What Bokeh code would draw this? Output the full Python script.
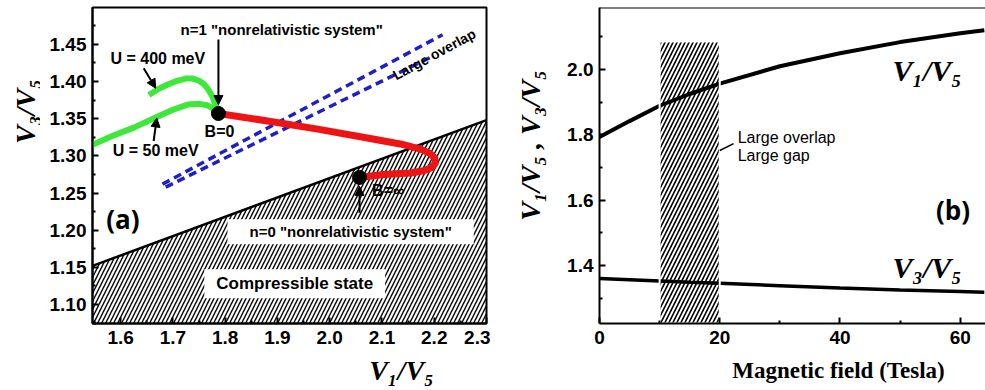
from bokeh.plotting import figure
from bokeh.layouts import row, column
from bokeh.models import Label, Arrow, NormalHead, FixedTicker, Span, NumeralTickFormatter
from bokeh.embed import file_html
from bokeh.resources import INLINE

# ---------------- data: panel (a) ----------------
a_x_ticks = [1.6, 1.7, 1.8, 1.9, 2.0, 2.1, 2.2, 2.3]
a_x_minor = [1.55, 1.65, 1.75, 1.85, 1.95, 2.05, 2.15, 2.25]
a_y_ticks = [1.10, 1.15, 1.20, 1.25, 1.30, 1.35, 1.40, 1.45]
a_y_minor = [1.075, 1.125, 1.175, 1.225, 1.275, 1.325, 1.375, 1.425, 1.475]

u400_x = [1.654, 1.672, 1.690, 1.708, 1.724, 1.738, 1.750, 1.760, 1.768, 1.776, 1.782, 1.787]
u400_y = [1.382, 1.390, 1.396, 1.401, 1.404, 1.404, 1.401, 1.396, 1.389, 1.379, 1.368, 1.357]
u50_x = [1.546, 1.585, 1.625, 1.671, 1.700, 1.728, 1.750, 1.766, 1.779, 1.787]
u50_y = [1.315, 1.327, 1.338, 1.353, 1.362, 1.369, 1.370, 1.368, 1.363, 1.357]
red_x = [1.787, 1.881, 1.977, 2.072, 2.135, 2.174, 2.192, 2.201, 2.202, 2.194, 2.180, 2.154, 2.103, 2.057]
red_y = [1.357, 1.347, 1.336, 1.324, 1.316, 1.309, 1.303, 1.297, 1.290, 1.284, 1.280, 1.277, 1.275, 1.271]
bound_x = [1.546, 2.30]
bound_y = [1.152, 1.348]
blue_up_x = [1.680, 2.216]
blue_up_y = [1.262, 1.463]
blue_lo_x = [1.686, 2.197]
blue_lo_y = [1.258, 1.434]
dots_x = [1.787, 2.057]
dots_y = [1.357, 1.271]

# ---------------- data: panel (b) ----------------
b_x_ticks = [0, 20, 40, 60]
b_x_minor = [10, 30, 50]
b_y_ticks = [1.4, 1.6, 1.8, 2.0]
b_y_minor = [1.3, 1.5, 1.7, 1.9, 2.1]
field = [0, 5, 10, 15, 20, 30, 40, 50, 60, 64]
v1_v5 = [1.793, 1.842, 1.889, 1.925, 1.957, 2.010, 2.050, 2.084, 2.111, 2.120]
v3_v5 = [1.360, 1.356, 1.352, 1.348, 1.345, 1.338, 1.331, 1.325, 1.320, 1.318]
band_left, band_right, band_top = 10, 20, 2.086

H_TOP = 355
H_BOT = 35
TICK_FONT = "Liberation Sans"


def style_axes(p, xt, xm, yt, ym, xfmt, yfmt):
    for ax in (p.xaxis[0], p.yaxis[0]):
        ax.axis_line_width = 2
        ax.axis_line_color = "black"
        ax.major_tick_in = 6
        ax.major_tick_out = 0
        ax.minor_tick_in = 3
        ax.minor_tick_out = 0
        ax.major_tick_line_width = 2
        ax.minor_tick_line_width = 2
        ax.major_label_text_font = TICK_FONT
        ax.major_label_text_font_style = "bold"
        ax.major_label_text_font_size = "19px"
        ax.major_label_text_color = "black"
    p.xaxis[0].ticker = FixedTicker(ticks=xt, minor_ticks=xm)
    p.yaxis[0].ticker = FixedTicker(ticks=yt, minor_ticks=ym)
    p.xaxis[0].formatter = NumeralTickFormatter(format=xfmt)
    p.yaxis[0].formatter = NumeralTickFormatter(format=yfmt)
    p.xaxis[0].major_label_standoff = 7
    p.yaxis[0].major_label_standoff = 6
    p.xgrid.visible = False
    p.ygrid.visible = False


def lab(p, x, y, text, size, font="Liberation Sans", style="bold", align="center",
        angle=0, bg=None, pad=0, color="black"):
    kw = {}
    if bg is not None:
        kw = dict(background_fill_color=bg, padding=pad)
    p.add_layout(Label(x=x, y=y, text=text, text_font=font, text_font_style=style,
                       text_font_size=size, text_align=align, text_baseline="middle",
                       angle=angle, text_color=color, **kw))


def arrow(p, x0, y0, x1, y1):
    p.add_layout(Arrow(end=NormalHead(size=9, fill_color="black", line_color="black"),
                       x_start=x0, y_start=y0, x_end=x1, y_end=y1,
                       line_color="black", line_width=2))


def blank(width, height):
    f = figure(width=width, height=height, x_range=(0, width), y_range=(0, height),
               output_backend="svg", toolbar_location=None,
               min_border_left=0, min_border_right=0, min_border_top=0, min_border_bottom=0)
    f.axis.visible = False
    f.xgrid.visible = False
    f.ygrid.visible = False
    f.outline_line_color = None
    return f


# ================= panel (a) =================
pa = figure(width=450, height=H_TOP, x_range=(1.546, 2.30), y_range=(1.0745, 1.4996),
            output_backend="svg", toolbar_location=None,
            min_border_left=52, min_border_right=4, min_border_top=6, min_border_bottom=32)
pa.outline_line_color = "black"
pa.outline_line_width = 2
style_axes(pa, a_x_ticks, a_x_minor, a_y_ticks, a_y_minor, "0.0", "0.00")

ymin_a = pa.y_range.start
pa.patch(bound_x + bound_x[::-1], bound_y + [ymin_a, ymin_a],
         fill_alpha=0, line_alpha=0, hatch_pattern="/", hatch_scale=8,
         hatch_weight=1.4, hatch_color="black")
pa.line(bound_x, bound_y, line_color="black", line_width=2.5)

pa.line(blue_up_x, blue_up_y, line_color="#1f1fc8", line_width=3.5, line_dash="8 5")
pa.line(blue_lo_x, blue_lo_y, line_color="#1f1fc8", line_width=3.5, line_dash="8 5")

pa.line(u400_x, u400_y, line_color="#3ee83a", line_width=6, line_join="round")
pa.line(u50_x, u50_y, line_color="#3ee83a", line_width=6, line_join="round")
pa.line(red_x, red_y, line_color="#ee1414", line_width=7, line_join="round")
pa.scatter(dots_x, dots_y, size=14, fill_color="black", line_color="black")

lab(pa, 1.908, 1.470, 'n=1 "nonrelativistic system"', "15px")
arrow(pa, 1.787, 1.4567, 1.787, 1.369)
lab(pa, 1.671, 1.431, "U = 400 meV", "16px")
arrow(pa, 1.644, 1.418, 1.667, 1.391)
lab(pa, 1.667, 1.3066, "U = 50 meV", "16px")
arrow(pa, 1.663, 1.320, 1.669, 1.351)
lab(pa, 1.789, 1.3334, "B=0", "16px")
lab(pa, 2.112, 1.254, "B=\u221e", "16px")
arrow(pa, 2.057, 1.2235, 2.057, 1.259)
lab(pa, 1.604, 1.2154, "(a)", "26px", font="Open Sans")
lab(pa, 2.040, 1.198, 'n=0 "nonrelativistic system"', "15px", bg="white", pad=(22, 4))
lab(pa, 1.933, 1.128, "Compressible state", "17px", bg="white", pad=(12, 5))
lab(pa, 2.200, 1.4366, "Large overlap", "14px", angle=0.497)

# ================= panel (b) =================
pb = figure(width=430, height=H_TOP, x_range=(0, 64.2), y_range=(1.222, 2.19),
            output_backend="svg", toolbar_location=None,
            min_border_left=44, min_border_right=0, min_border_top=7, min_border_bottom=32)
pb.outline_line_color = None
style_axes(pb, b_x_ticks, b_x_minor, b_y_ticks, b_y_minor, "0", "0.0")
pb.add_layout(Span(location=pb.y_range.end, dimension="width", line_color="black", line_width=2))

pb.line(field, v1_v5, line_color="black", line_width=4)
pb.line(field, v3_v5, line_color="black", line_width=3.5)
pb.quad(left=[band_left], right=[band_right], bottom=[pb.y_range.start], top=[band_top],
        fill_alpha=0, line_color="white", line_width=2,
        hatch_pattern="/", hatch_scale=8, hatch_weight=1.6, hatch_color="black")

lab(pb, 54.5, 1.997, "V\u2081/V\u2085", "30px", font="Liberation Serif", style="bold italic")
lab(pb, 54.5, 1.393, "V\u2083/V\u2085", "30px", font="Liberation Serif", style="bold italic")
lab(pb, 58.8, 1.571, "(b)", "26px", font="Open Sans")
lab(pb, 22.98, 1.792, "Large overlap", "16px", style="normal", align="left")
lab(pb, 22.98, 1.737, "Large gap", "16px", style="normal", align="left")
pb.line([20, 22.3], [1.752, 1.773], line_color="black", line_width=1.5)

# ================= title strips =================
ta = blank(40, H_TOP)          # left y title of (a)
lab(ta, 25, H_TOP - 117, "V\u2083/V\u2085", "28px", font="Liberation Serif",
    style="bold italic", angle=1.5708)

tb = blank(65, H_TOP)          # y title of (b)
lab(tb, 40, H_TOP - 155, "V\u2081/V\u2085 , V\u2083/V\u2085", "28px", font="Liberation Serif",
    style="bold italic", angle=1.5708)

tx = blank(985, H_BOT)         # x titles
lab(tx, 401, 20, "V\u2081/V\u2085", "28px", font="Liberation Serif", style="bold italic")
lab(tx, 838, 20, "Magnetic field (Tesla)", "23px", font="Liberation Serif", style="bold")

layout = column(row(ta, pa, tb, pb), tx)
open("out.html", "w").write(file_html(layout, INLINE))
